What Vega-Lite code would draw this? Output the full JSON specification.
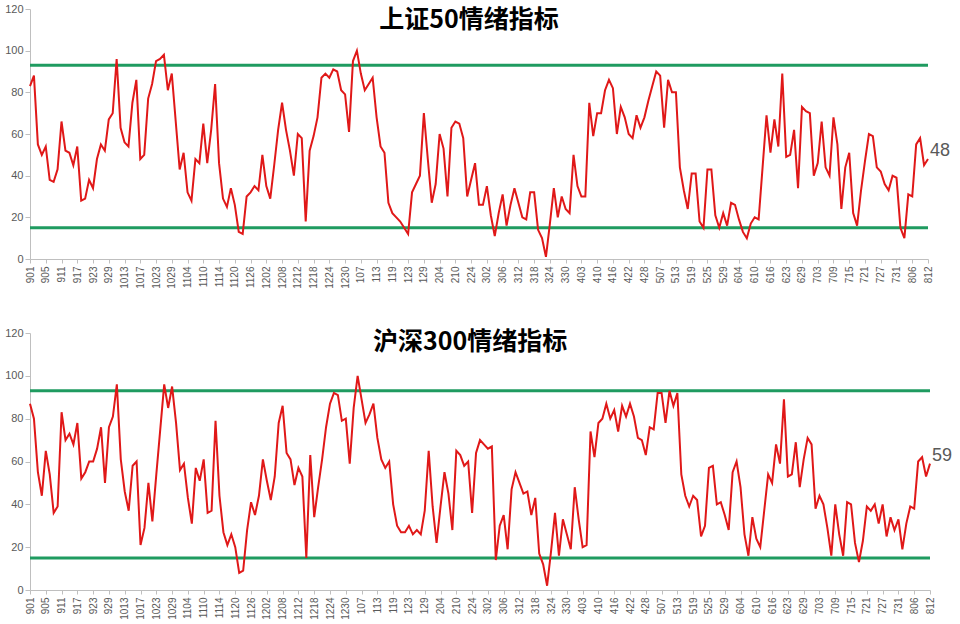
{
"$schema": "https://vega.github.io/schema/vega-lite/v6.json",
"padding": {"top": 3, "left": 4, "right": 0, "bottom": 0},
"background": "white",
"datasets": {
"lv": [{"v": 93}, {"v": 15}],
"s": [
{"i":0,"a":83,"b":87},{"i":1,"a":88,"b":80},{"i":2,"a":55,"b":55},{"i":3,"a":50,"b":44},{"i":4,"a":54,"b":65},{"i":5,"a":38,"b":54},{"i":6,"a":37,"b":36},{"i":7,"a":43,"b":39},{"i":8,"a":66,"b":83},{"i":9,"a":52,"b":70},
{"i":10,"a":51,"b":73},{"i":11,"a":45,"b":68},{"i":12,"a":54,"b":78},{"i":13,"a":28,"b":52},{"i":14,"a":29,"b":55},{"i":15,"a":38,"b":60},{"i":16,"a":34,"b":60},{"i":17,"a":48,"b":66},{"i":18,"a":55,"b":76},{"i":19,"a":52,"b":50},
{"i":20,"a":67,"b":76},{"i":21,"a":70,"b":81},{"i":22,"a":96,"b":96},{"i":23,"a":63,"b":61},{"i":24,"a":56,"b":46},{"i":25,"a":54,"b":37},{"i":26,"a":75,"b":58},{"i":27,"a":86,"b":60},{"i":28,"a":48,"b":21},{"i":29,"a":50,"b":29},
{"i":30,"a":77,"b":50},{"i":31,"a":84,"b":32},{"i":32,"a":95,"b":54},{"i":33,"a":96,"b":75},{"i":34,"a":98,"b":96},{"i":35,"a":81,"b":85},{"i":36,"a":89,"b":95},{"i":37,"a":66,"b":78},{"i":38,"a":43,"b":56},{"i":39,"a":51,"b":59},
{"i":40,"a":32,"b":43},{"i":41,"a":28,"b":31},{"i":42,"a":48,"b":57},{"i":43,"a":46,"b":51},{"i":44,"a":65,"b":61},{"i":45,"a":46,"b":36},{"i":46,"a":62,"b":37},{"i":47,"a":84,"b":79},{"i":48,"a":46,"b":44},{"i":49,"a":29,"b":27},
{"i":50,"a":25,"b":21},{"i":51,"a":34,"b":26},{"i":52,"a":26,"b":20},{"i":53,"a":13,"b":8},{"i":54,"a":12,"b":9},{"i":55,"a":30,"b":28},{"i":56,"a":32,"b":41},{"i":57,"a":35,"b":35},{"i":58,"a":33,"b":44},{"i":59,"a":50,"b":61},
{"i":60,"a":35,"b":51},{"i":61,"a":29,"b":42},{"i":62,"a":45,"b":53},{"i":63,"a":62,"b":78},{"i":64,"a":75,"b":86},{"i":65,"a":62,"b":64},{"i":66,"a":52,"b":61},{"i":67,"a":40,"b":49},{"i":68,"a":60,"b":57},{"i":69,"a":58,"b":53},
{"i":70,"a":18,"b":15},{"i":71,"a":52,"b":63},{"i":72,"a":59,"b":34},{"i":73,"a":68,"b":48},{"i":74,"a":87,"b":61},{"i":75,"a":89,"b":76},{"i":76,"a":87,"b":87},{"i":77,"a":91,"b":92},{"i":78,"a":90,"b":91},{"i":79,"a":81,"b":79},
{"i":80,"a":79,"b":80},{"i":81,"a":61,"b":59},{"i":82,"a":95,"b":85},{"i":83,"a":100,"b":100},{"i":84,"a":89,"b":89},{"i":85,"a":81,"b":78},{"i":86,"a":84,"b":82},{"i":87,"a":87,"b":87},{"i":88,"a":68,"b":71},{"i":89,"a":54,"b":61},
{"i":90,"a":51,"b":57},{"i":91,"a":27,"b":60},{"i":92,"a":22,"b":40},{"i":93,"a":20,"b":30},{"i":94,"a":18,"b":27},{"i":95,"a":15,"b":27},{"i":96,"a":12,"b":30},{"i":97,"a":32,"b":26},{"i":98,"a":36,"b":28},{"i":99,"a":40,"b":26},
{"i":100,"a":70,"b":37},{"i":101,"a":48,"b":65},{"i":102,"a":27,"b":39},{"i":103,"a":36,"b":22},{"i":104,"a":60,"b":39},{"i":105,"a":53,"b":55},{"i":106,"a":30,"b":45},{"i":107,"a":63,"b":28},{"i":108,"a":66,"b":65},{"i":109,"a":65,"b":63},
{"i":110,"a":58,"b":58},{"i":111,"a":30,"b":60},{"i":112,"a":38,"b":36},{"i":113,"a":46,"b":64},{"i":114,"a":26,"b":70},{"i":115,"a":26,"b":68},{"i":116,"a":35,"b":66},{"i":117,"a":21,"b":67},{"i":118,"a":11,"b":14},{"i":119,"a":22,"b":30},
{"i":120,"a":31,"b":35},{"i":121,"a":16,"b":19},{"i":122,"a":26,"b":47},{"i":123,"a":34,"b":55},{"i":124,"a":27,"b":50},{"i":125,"a":20,"b":45},{"i":126,"a":19,"b":46},{"i":127,"a":32,"b":35},{"i":128,"a":32,"b":43},{"i":129,"a":14,"b":17},
{"i":130,"a":10,"b":12},{"i":131,"a":1,"b":2},{"i":132,"a":17,"b":18},{"i":133,"a":34,"b":36},{"i":134,"a":20,"b":16},{"i":135,"a":30,"b":33},{"i":136,"a":24,"b":26},{"i":137,"a":22,"b":19},{"i":138,"a":50,"b":48},{"i":139,"a":35,"b":33},
{"i":140,"a":30,"b":20},{"i":141,"a":30,"b":21},{"i":142,"a":75,"b":74},{"i":143,"a":59,"b":62},{"i":144,"a":70,"b":78},{"i":145,"a":70,"b":80},{"i":146,"a":81,"b":87},{"i":147,"a":86,"b":80},{"i":148,"a":82,"b":84},{"i":149,"a":60,"b":74},
{"i":150,"a":73,"b":86},{"i":151,"a":68,"b":81},{"i":152,"a":60,"b":87},{"i":153,"a":58,"b":81},{"i":154,"a":69,"b":71},{"i":155,"a":63,"b":70},{"i":156,"a":68,"b":63},{"i":157,"a":76,"b":76},{"i":158,"a":83,"b":75},{"i":159,"a":90,"b":92},
{"i":160,"a":88,"b":92},{"i":161,"a":63,"b":78},{"i":162,"a":86,"b":93},{"i":163,"a":80,"b":86},{"i":164,"a":80,"b":92},{"i":165,"a":44,"b":54},{"i":166,"a":33,"b":44},{"i":167,"a":24,"b":39},{"i":168,"a":41,"b":44},{"i":169,"a":41,"b":42},
{"i":170,"a":18,"b":25},{"i":171,"a":15,"b":30},{"i":172,"a":43,"b":57},{"i":173,"a":43,"b":58},{"i":174,"a":21,"b":40},{"i":175,"a":15,"b":41},{"i":176,"a":22,"b":35},{"i":177,"a":16,"b":28},{"i":178,"a":27,"b":55},{"i":179,"a":26,"b":60},
{"i":180,"a":19,"b":48},{"i":181,"a":13,"b":26},{"i":182,"a":10,"b":16},{"i":183,"a":17,"b":34},{"i":184,"a":20,"b":24},{"i":185,"a":19,"b":20},{"i":186,"a":44,"b":37},{"i":187,"a":69,"b":54},{"i":188,"a":51,"b":50},{"i":189,"a":67,"b":68},
{"i":190,"a":54,"b":59},{"i":191,"a":89,"b":89},{"i":192,"a":49,"b":53},{"i":193,"a":50,"b":54},{"i":194,"a":62,"b":69},{"i":195,"a":34,"b":48},{"i":196,"a":73,"b":61},{"i":197,"a":71,"b":71},{"i":198,"a":70,"b":68},{"i":199,"a":40,"b":38},
{"i":200,"a":46,"b":44},{"i":201,"a":66,"b":40},{"i":202,"a":44,"b":29},{"i":203,"a":40,"b":16},{"i":204,"a":68,"b":40},{"i":205,"a":55,"b":26},{"i":206,"a":24,"b":16},{"i":207,"a":44,"b":41},{"i":208,"a":51,"b":40},{"i":209,"a":22,"b":22},
{"i":210,"a":16,"b":13},{"i":211,"a":33,"b":23},{"i":212,"a":47,"b":39},{"i":213,"a":60,"b":37},{"i":214,"a":59,"b":40},{"i":215,"a":44,"b":31},{"i":216,"a":42,"b":40},{"i":217,"a":36,"b":25},{"i":218,"a":33,"b":34},{"i":219,"a":40,"b":28},
{"i":220,"a":39,"b":33},{"i":221,"a":15,"b":19},{"i":222,"a":10,"b":31},{"i":223,"a":31,"b":39},{"i":224,"a":30,"b":38},{"i":225,"a":55,"b":60},{"i":226,"a":58,"b":62},{"i":227,"a":45,"b":53},{"i":228,"a":48,"b":59}
]
},
"spacing": 38,
"vconcat": [
{
"width": 898, "height": 250,
"title": {"text": "上证50情绪指标", "frame": "group", "anchor": "middle", "offset": -30, "dx": -10, "font": "Noto Sans CJK SC", "fontSize": 25, "fontWeight": "bold", "color": "#000000"},
"layer": [
{"data": {"name": "lv"}, "mark": {"type": "rule", "color": "#1f9b60", "strokeWidth": 3},
 "encoding": {"y": {"field": "v", "type": "quantitative", "title": null, "scale": {"domain": [0, 120], "nice": false},
   "axis": {"values": [0,20,40,60,80,100,120], "labelFontSize": 11, "tickSize": 5, "grid": false}}}},
{"data": {"name": "s"}, "mark": {"type": "line", "color": "#e01818", "strokeWidth": 2},
 "encoding": {
  "x": {"field": "i", "type": "quantitative", "title": null, "scale": {"domain": [0, 228], "nice": false, "zero": false},
   "axis": {"values": [0,4,8,12,16,20,24,28,32,36,40,44,48,52,56,60,64,68,72,76,80,84,88,92,96,100,104,108,112,116,120,124,128,132,136,140,144,148,152,156,160,164,168,172,176,180,184,188,192,196,200,204,208,212,216,220,224,228],
    "labelExpr": "['901','905','911','917','923','929','1013','1017','1023','1029','1104','1110','1114','1120','1126','1202','1208','1212','1218','1224','1230','107','113','119','123','129','204','210','224','302','306','312','318','324','330','403','410','416','422','428','507','513','519','525','529','604','610','616','623','629','703','709','715','721','727','731','806','812'][round(datum.value/4)]",
    "labelAngle": -90, "labelOverlap": false, "labelFontSize": 10, "tickSize": 4, "labelPadding": 3, "grid": false}},
  "y": {"field": "a", "type": "quantitative", "title": null, "scale": {"domain": [0, 120], "nice": false},
   "axis": {"values": [0,20,40,60,80,100,120], "labelFontSize": 11, "tickSize": 5, "grid": false}}}},
{"data": {"name": "s"}, "transform": [{"filter": "datum.i == 228"}],
 "mark": {"type": "text", "align": "left", "baseline": "middle", "dx": 2, "dy": -8, "fontSize": 18, "font": "Liberation Sans", "color": "#595959"},
 "encoding": {
  "x": {"field": "i", "type": "quantitative", "title": null, "scale": {"domain": [0, 228], "nice": false, "zero": false},
   "axis": {"values": [0,4,8,12,16,20,24,28,32,36,40,44,48,52,56,60,64,68,72,76,80,84,88,92,96,100,104,108,112,116,120,124,128,132,136,140,144,148,152,156,160,164,168,172,176,180,184,188,192,196,200,204,208,212,216,220,224,228],
    "labelExpr": "['901','905','911','917','923','929','1013','1017','1023','1029','1104','1110','1114','1120','1126','1202','1208','1212','1218','1224','1230','107','113','119','123','129','204','210','224','302','306','312','318','324','330','403','410','416','422','428','507','513','519','525','529','604','610','616','623','629','703','709','715','721','727','731','806','812'][round(datum.value/4)]",
    "labelAngle": -90, "labelOverlap": false, "labelFontSize": 10, "tickSize": 4, "labelPadding": 3, "grid": false}},
  "y": {"field": "a", "type": "quantitative", "title": null, "scale": {"domain": [0, 120], "nice": false},
   "axis": {"values": [0,20,40,60,80,100,120], "labelFontSize": 11, "tickSize": 5, "grid": false}},
  "text": {"field": "a", "type": "quantitative"}}}
]
},
{
"width": 900, "height": 257,
"title": {"text": "沪深300情绪指标", "frame": "group", "anchor": "middle", "offset": -28, "dx": -10, "font": "Noto Sans CJK SC", "fontSize": 25, "fontWeight": "bold", "color": "#000000"},
"layer": [
{"data": {"name": "lv"}, "mark": {"type": "rule", "color": "#1f9b60", "strokeWidth": 3},
 "encoding": {"y": {"field": "v", "type": "quantitative", "title": null, "scale": {"domain": [0, 120], "nice": false},
   "axis": {"values": [0,20,40,60,80,100,120], "labelFontSize": 11, "tickSize": 5, "grid": false}}}},
{"data": {"name": "s"}, "mark": {"type": "line", "color": "#e01818", "strokeWidth": 2},
 "encoding": {
  "x": {"field": "i", "type": "quantitative", "title": null, "scale": {"domain": [0, 228], "nice": false, "zero": false},
   "axis": {"values": [0,4,8,12,16,20,24,28,32,36,40,44,48,52,56,60,64,68,72,76,80,84,88,92,96,100,104,108,112,116,120,124,128,132,136,140,144,148,152,156,160,164,168,172,176,180,184,188,192,196,200,204,208,212,216,220,224,228],
    "labelExpr": "['901','905','911','917','923','929','1013','1017','1023','1029','1104','1110','1114','1120','1126','1202','1208','1212','1218','1224','1230','107','113','119','123','129','204','210','224','302','306','312','318','324','330','403','410','416','422','428','507','513','519','525','529','604','610','616','623','629','703','709','715','721','727','731','806','812'][round(datum.value/4)]",
    "labelAngle": -90, "labelOverlap": false, "labelFontSize": 10, "tickSize": 4, "labelPadding": 3, "grid": false}},
  "y": {"field": "b", "type": "quantitative", "title": null, "scale": {"domain": [0, 120], "nice": false},
   "axis": {"values": [0,20,40,60,80,100,120], "labelFontSize": 11, "tickSize": 5, "grid": false}}}},
{"data": {"name": "s"}, "transform": [{"filter": "datum.i == 228"}],
 "mark": {"type": "text", "align": "left", "baseline": "middle", "dx": 2, "dy": -8, "fontSize": 18, "font": "Liberation Sans", "color": "#595959"},
 "encoding": {
  "x": {"field": "i", "type": "quantitative", "title": null, "scale": {"domain": [0, 228], "nice": false, "zero": false},
   "axis": {"values": [0,4,8,12,16,20,24,28,32,36,40,44,48,52,56,60,64,68,72,76,80,84,88,92,96,100,104,108,112,116,120,124,128,132,136,140,144,148,152,156,160,164,168,172,176,180,184,188,192,196,200,204,208,212,216,220,224,228],
    "labelExpr": "['901','905','911','917','923','929','1013','1017','1023','1029','1104','1110','1114','1120','1126','1202','1208','1212','1218','1224','1230','107','113','119','123','129','204','210','224','302','306','312','318','324','330','403','410','416','422','428','507','513','519','525','529','604','610','616','623','629','703','709','715','721','727','731','806','812'][round(datum.value/4)]",
    "labelAngle": -90, "labelOverlap": false, "labelFontSize": 10, "tickSize": 4, "labelPadding": 3, "grid": false}},
  "y": {"field": "b", "type": "quantitative", "title": null, "scale": {"domain": [0, 120], "nice": false},
   "axis": {"values": [0,20,40,60,80,100,120], "labelFontSize": 11, "tickSize": 5, "grid": false}},
  "text": {"field": "b", "type": "quantitative"}}}
]
}
],
"config": {
 "view": {"stroke": null},
 "axis": {"domainColor": "#bfbfbf", "tickColor": "#bfbfbf", "labelColor": "#595959", "labelFont": "Liberation Sans", "grid": false},
 "axisX": {"labelOverlap": false}
}
}
